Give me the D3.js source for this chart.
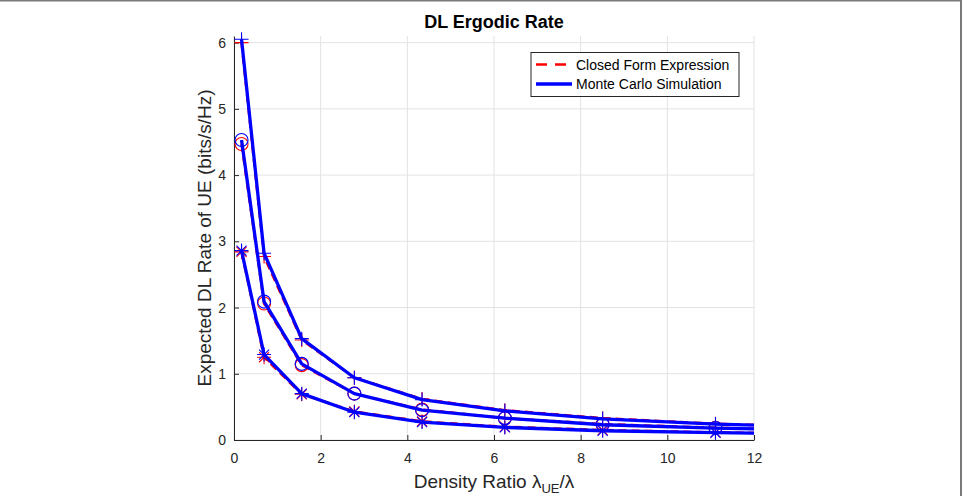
<!DOCTYPE html>
<html>
<head>
<meta charset="utf-8">
<script src="https://cdn.jsdelivr.net/npm/d3@7"></script>
<style>
  body { margin: 0; background: #fff; }
  svg { display: block; font-family: "Liberation Sans", Arial, Helvetica, sans-serif; }
</style>
</head>
<body>
<div id="chart"></div>
<script>
// density ratio sample points (last one lies beyond the axis and is clipped)
const densityRatio = [0.174, 0.694, 1.563, 2.778, 4.340, 6.250, 8.507, 11.111, 14.063];

// closed form expression (red dashed)
const closedPlus   = [6.00, 2.77, 1.51, 0.94, 0.62, 0.45, 0.33, 0.245, 0.19];
const closedCircle = [4.47, 2.06, 1.13, 0.70, 0.46, 0.33, 0.24, 0.185, 0.14];
const closedStar   = [2.84, 1.25, 0.69, 0.43, 0.28, 0.20, 0.15, 0.115, 0.09];

// monte carlo simulation (blue solid)
const mcPlus   = [6.05, 2.82, 1.53, 0.94, 0.61, 0.44, 0.32, 0.24, 0.185];
const mcCircle = [4.53, 2.09, 1.15, 0.70, 0.45, 0.33, 0.23, 0.18, 0.14];
const mcStar   = [2.86, 1.29, 0.70, 0.42, 0.27, 0.19, 0.14, 0.11, 0.085];

const xTicks = [0, 2, 4, 6, 8, 10, 12];
const yTicks = [0, 1, 2, 3, 4, 5, 6];
const legendLabels = ['Closed Form Expression', 'Monte Carlo Simulation'];

const W = 966, H = 496;
const plot = { left: 234, right: 754, top: 36, bottom: 440 };
const axisColor = '#262626';
const gridColor = '#e3e3e3';
const RED = '#ff0000', BLUE = '#0000ff';

const svg = d3.select('#chart').append('svg')
    .attr('width', W)
    .attr('height', H);

// outer frame (top and right edge of the figure)
svg.append('line').attr('x1', 0).attr('x2', 962).attr('y1', 0.75).attr('y2', 0.75)
    .attr('stroke', '#7a7a7a').attr('stroke-width', 1.5);
svg.append('line').attr('x1', 961).attr('x2', 961).attr('y1', 0).attr('y2', H)
    .attr('stroke', '#7a7a7a').attr('stroke-width', 2);

const x = d3.scaleLinear().domain([0, 12]).range([plot.left, plot.right]);
const y = d3.scaleLinear().domain([0, 6.1]).range([plot.bottom, plot.top]);

// grid
const grid = svg.append('g').attr('class', 'grid');
grid.selectAll('.gx').data(xTicks).join('line')
    .attr('x1', d => x(d)).attr('x2', d => x(d))
    .attr('y1', plot.top).attr('y2', plot.bottom)
    .attr('stroke', gridColor).attr('stroke-width', 1);
grid.selectAll('.gy').data(yTicks).join('line')
    .attr('x1', plot.left).attr('x2', plot.right)
    .attr('y1', d => y(d)).attr('y2', d => y(d))
    .attr('stroke', gridColor).attr('stroke-width', 1);

// axes
const xAxis = svg.append('g')
    .attr('transform', `translate(0,${plot.bottom})`)
    .call(d3.axisBottom(x).tickValues(xTicks).tickFormat(d3.format('d'))
        .tickSize(-5).tickSizeOuter(0).tickPadding(13));
const yAxis = svg.append('g')
    .attr('transform', `translate(${plot.left},0)`)
    .call(d3.axisLeft(y).tickValues(yTicks).tickFormat(d3.format('d'))
        .tickSize(-5).tickSizeOuter(0).tickPadding(8));

[xAxis, yAxis].forEach(ax => {
    ax.select('.domain').attr('stroke', axisColor);
    ax.selectAll('.tick line').attr('stroke', axisColor);
    ax.selectAll('.tick text')
        .attr('fill', axisColor)
        .style('font-size', '14px')
        .style('font-family', '"Liberation Sans", Arial, sans-serif');
});

// clip to plot area
svg.append('clipPath').attr('id', 'clip')
    .append('rect')
    .attr('x', plot.left).attr('y', plot.top - 10)
    .attr('width', plot.right - plot.left).attr('height', plot.bottom - plot.top + 10);

const lineGen = d3.line()
    .x(d => x(d[0]))
    .y(d => y(d[1]));

const series = [
    { vals: closedPlus,   color: RED,  dash: '8,5', width: 2.5, marker: 'plus' },
    { vals: closedCircle, color: RED,  dash: '8,5', width: 2.5, marker: 'circle' },
    { vals: closedStar,   color: RED,  dash: '8,5', width: 2.5, marker: 'star' },
    { vals: mcPlus,       color: BLUE, dash: null,  width: 3.3, marker: 'plus' },
    { vals: mcCircle,     color: BLUE, dash: null,  width: 3.3, marker: 'circle' },
    { vals: mcStar,       color: BLUE, dash: null,  width: 3.3, marker: 'star' }
];

const plotG = svg.append('g').attr('clip-path', 'url(#clip)');

// marker shapes
function drawMarker(g, type, cx, cy, color) {
    const s = 7;
    if (type === 'plus') {
        g.append('path')
            .attr('d', `M${cx - s},${cy}H${cx + s}M${cx},${cy - s}V${cy + s}`)
            .attr('stroke', color).attr('stroke-width', 1.1).attr('fill', 'none');
    } else if (type === 'circle') {
        g.append('circle')
            .attr('cx', cx).attr('cy', cy).attr('r', 6.5)
            .attr('stroke', color).attr('stroke-width', 1.1).attr('fill', 'none');
    } else {
        const a = s * 0.72;
        g.append('path')
            .attr('d', `M${cx - s},${cy}H${cx + s}M${cx},${cy - s}V${cy + s}` +
                `M${cx - a},${cy - a}L${cx + a},${cy + a}M${cx - a},${cy + a}L${cx + a},${cy - a}`)
            .attr('stroke', color).attr('stroke-width', 1.1).attr('fill', 'none');
    }
}

series.forEach(s => {
    const pts = densityRatio.map((d, i) => [d, s.vals[i]]);
    plotG.append('path')
        .datum(pts)
        .attr('d', lineGen)
        .attr('fill', 'none')
        .attr('stroke', s.color)
        .attr('stroke-width', s.width)
        .attr('stroke-linejoin', 'round')
        .attr('stroke-dasharray', s.dash);
    pts.filter(p => p[0] <= 12).forEach(p => {
        drawMarker(plotG, s.marker, x(p[0]), y(p[1]), s.color);
    });
});

// legend
const legend = svg.append('g');
legend.append('rect')
    .attr('x', 531).attr('y', 52.5).attr('width', 208).attr('height', 44)
    .attr('fill', '#fff').attr('stroke', axisColor).attr('stroke-width', 1);
legendLabels.forEach((label, i) => {
    const ly = 64.5 + i * 19.5;
    legend.append('line')
        .attr('x1', 536).attr('x2', 572).attr('y1', ly).attr('y2', ly)
        .attr('stroke', i === 0 ? RED : BLUE)
        .attr('stroke-width', i === 0 ? 2.5 : 3.3)
        .attr('stroke-dasharray', i === 0 ? '11,8' : null);
    legend.append('text')
        .attr('x', 576).attr('y', ly + 5)
        .style('font-size', '14px')
        .attr('fill', '#000')
        .text(label);
});

// title
svg.append('text')
    .attr('x', (plot.left + plot.right) / 2).attr('y', 28)
    .attr('text-anchor', 'middle')
    .style('font-size', '18px').style('font-weight', 'bold')
    .attr('fill', '#000')
    .text('DL Ergodic Rate');

// y label
svg.append('text')
    .attr('transform', `translate(211,${(plot.top + plot.bottom) / 2}) rotate(-90)`)
    .attr('text-anchor', 'middle')
    .style('font-size', '19px')
    .attr('fill', axisColor)
    .text('Expected DL Rate of UE (bits/s/Hz)');

// x label with lambda subscript
const xl = svg.append('text')
    .attr('x', (plot.left + plot.right) / 2).attr('y', 488)
    .attr('text-anchor', 'middle')
    .style('font-size', '19px')
    .attr('fill', axisColor);
xl.append('tspan').text('Density Ratio λ');
xl.append('tspan').attr('dy', 5).style('font-size', '13px').text('UE');
xl.append('tspan').attr('dy', -5).text('/λ');
</script>
</body>
</html>
